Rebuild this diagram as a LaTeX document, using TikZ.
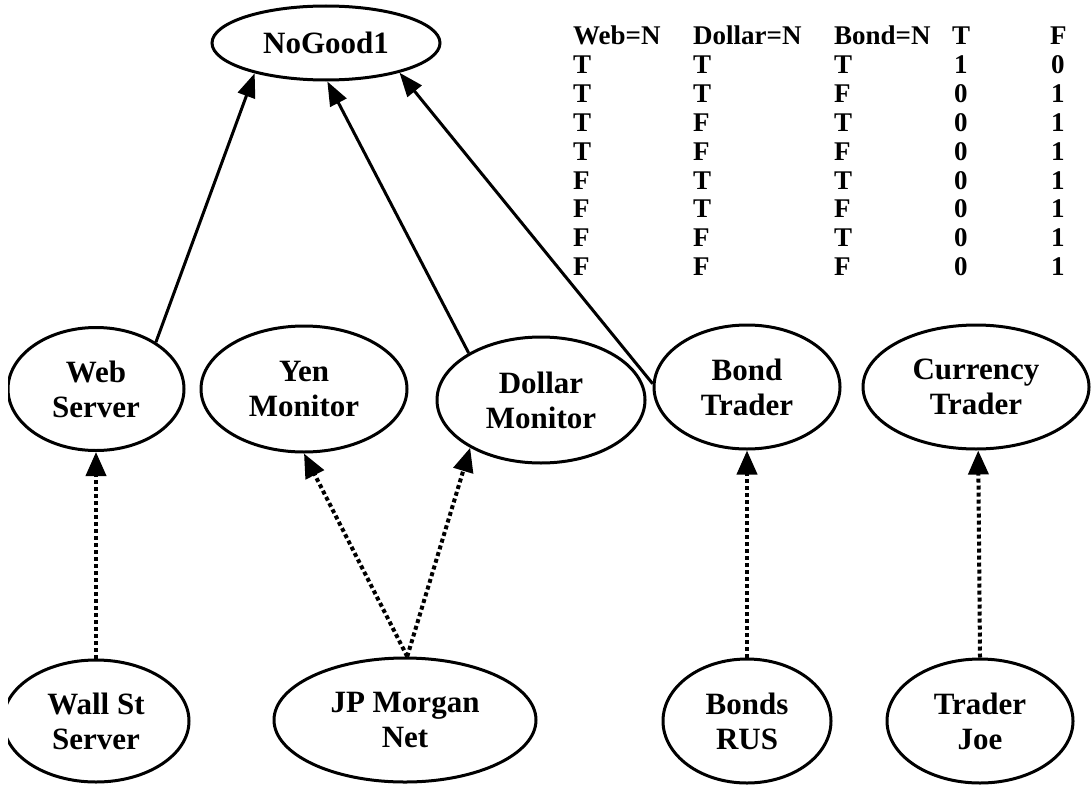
\documentclass[tikz,border=0pt]{standalone}
\usepackage{fontspec}
\setmainfont{Liberation Serif}
\usetikzlibrary{shapes.geometric,arrows.meta}
\begin{document}
\begin{tikzpicture}[x=1pt,y=-1pt,
  var/.style={draw,ellipse,line width=3pt,inner sep=0pt,align=center,
    font=\bfseries\fontsize{31}{35}\selectfont},
  cause/.style={line width=3pt,-{Triangle[length=24pt,width=18pt]}},
  link/.style={line width=4pt,dash pattern=on 4pt off 3pt,-{Triangle[length=24pt,width=20pt]}},
  cell/.style={anchor=base west,inner sep=0pt,font=\bfseries\fontsize{27}{29}\selectfont}]
\useasboundingbox (0,0) rectangle (1091,784);
\clip (8,0) rectangle (1091,784);

% variable nodes
\node[var,minimum width=228pt,minimum height=74pt] (ng) at (326,43) {NoGood1};
\node[var,minimum width=176pt,minimum height=123pt] (web) at (96,389) {Web\\Server};
\node[var,minimum width=206pt,minimum height=126pt] (yen) at (304,389) {Yen\\Monitor};
\node[var,minimum width=208pt,minimum height=126pt] (dollar) at (541,400) {Dollar\\Monitor};
\node[var,minimum width=186pt,minimum height=124pt] (bond) at (747,387) {Bond\\Trader};
\node[var,minimum width=226pt,minimum height=124pt] (curr) at (976,387) {Currency\\Trader};
\node[var,minimum width=186pt,minimum height=122pt] (wall) at (96,721) {Wall St\\Server};
\node[var,minimum width=262pt,minimum height=124pt] (jpm) at (405,720) {JP Morgan\\Net};
\node[var,minimum width=168pt,minimum height=124pt] (bonds) at (747,721) {Bonds\\RUS};
\node[var,minimum width=186pt,minimum height=124pt] (joe) at (980,721) {Trader\\Joe};

% truth table of NoGood1
\node[cell] (h1) at (573,45) {Web=N};
\node[cell] (h2) at (693,45) {Dollar=N};
\node[cell] (h3) at (834,45) {Bond=N};
\node[cell] (h4) at (952,45) {T};
\node[cell] (h5) at (1050,45) {F};
\foreach \a/\b/\c/\d/\e [count=\r] in
  {T/T/T/1/0, T/T/F/0/1, T/F/T/0/1, T/F/F/0/1,
   F/T/T/0/1, F/T/F/0/1, F/F/T/0/1, F/F/F/0/1} {
  \node[cell] (r\r a) at (573,{45+28.8*\r}) {\a};
  \node[cell] (r\r b) at (693,{45+28.8*\r}) {\b};
  \node[cell] (r\r c) at (834,{45+28.8*\r}) {\c};
  \node[cell] (r\r d) at (954,{45+28.8*\r}) {\d};
  \node[cell] (r\r e) at (1051,{45+28.8*\r}) {\e};
}

% causal links into NoGood1
\draw[cause] (web.38) -- (ng.-157);
\draw[cause] (dollar.147) -- (ng.-88);
\draw[cause] (bond.178) -- (ng.-22);

% source links
\draw[link] (wall.north) -- (web.south);
\draw[link] (jpm.88) -- (yen.south);
\draw[link] (jpm.88) -- (dollar.-146);
\draw[link] (bonds.north) -- (bond.south);
\draw[link] (joe.north) -- (curr.-88);
\end{tikzpicture}
\end{document}
